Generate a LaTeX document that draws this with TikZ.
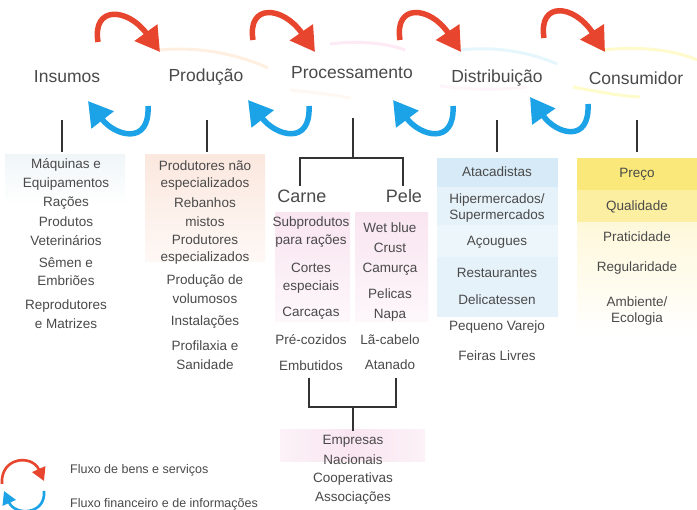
\documentclass[tikz,border=0pt]{standalone}
\usepackage{fontspec}
\setmainfont{Liberation Sans}
\usetikzlibrary{arrows.meta}
\definecolor{txt}{HTML}{4A4A4A}
\definecolor{rd}{HTML}{E8452E}
\definecolor{bl}{HTML}{1CA2E6}
\definecolor{ln}{HTML}{333333}
\definecolor{insbg}{HTML}{F0F6F8}
\definecolor{prodbg}{HTML}{FBE8DF}
\definecolor{procbg}{HTML}{F9E5F0}
\definecolor{distbg}{HTML}{E5F2FA}
\definecolor{distbgt}{HTML}{D6EAF7}
\definecolor{consa}{HTML}{FAE97A}
\definecolor{consb}{HTML}{FCEFA2}
\definecolor{consc}{HTML}{FEF8DA}
\begin{document}
\begin{tikzpicture}[x=1pt,y=-1pt,
  hdr/.style={font=\fontsize{17.5}{20}\selectfont, text=txt, inner sep=0pt},
  subhdr/.style={font=\fontsize{18}{20}\selectfont, text=txt, inner sep=0pt},
  item/.style={font=\fontsize{13.5}{15}\selectfont, text=txt, inner sep=0pt},
  legtext/.style={font=\fontsize{12.5}{15}\selectfont, text=txt, inner sep=0pt, anchor=west},
  conn/.style={draw=ln, line width=1.4pt},
  redarrow/.style={draw=rd, line width=5.5pt, -{Triangle[length=24pt,width=27pt]}},
  bluearrow/.style={draw=bl, line width=5.5pt, -{Triangle[length=24pt,width=27pt]}},
  legred/.style={draw=rd, line width=2.6pt, -{Triangle[length=13pt,width=14pt]}},
  legblue/.style={draw=bl, line width=2.6pt, -{Triangle[length=13pt,width=14pt]}},
  swoosh/.style={line width=3pt, opacity=0.2},
]
\useasboundingbox (0,0) rectangle (697,510);
\fill[white] (0,0) rectangle (697,510);

% background panels
\shade[top color=insbg, bottom color=white] (5,155) rectangle (125,205);
\shade[top color=prodbg, bottom color=prodbg!30] (145,155) rectangle (265,262);
\shade[top color=procbg, bottom color=procbg!30] (275,213) rectangle (350,322);
\shade[top color=procbg, bottom color=procbg!30] (355,213) rectangle (428,322);
\shade[left color=procbg!50, right color=procbg!50, middle color=procbg] (280,430) rectangle (425,462);
\fill[distbg] (437,158) rectangle (558,317);
\fill[distbgt] (437,158) rectangle (558,187);
\fill[distbg!70] (437,225) rectangle (558,257);
\shade[top color=consc, bottom color=white] (577,222) rectangle (697,335);
\fill[consa] (577,158) rectangle (697,190);
\fill[consb] (577,190) rectangle (697,222);

% faint swooshes
\draw[swoosh, draw=orange!60] (160,50) .. controls (200,46) and (240,55) .. (268,68);
\draw[swoosh, draw=magenta!40] (330,44) .. controls (360,40) and (390,44) .. (405,50);
\draw[swoosh, draw=cyan!50] (460,50) .. controls (495,46) and (530,52) .. (557,64);
\draw[swoosh, draw=yellow!90!orange] (603,50) .. controls (640,46) and (675,50) .. (697,60);
\draw[swoosh, draw=orange!40, opacity=0.12] (290,90) .. controls (310,92) and (330,94) .. (350,98);
\draw[swoosh, draw=magenta!30, opacity=0.12] (440,86) .. controls (470,90) and (500,90) .. (527,87);
\draw[swoosh, draw=yellow!80, opacity=0.25] (573,87) .. controls (600,92) and (620,96) .. (640,97);

% headers
\node[hdr] (ins)  at (67,77) {Insumos};
\node[hdr] (prod) at (206,77) {Produção};
\node[hdr] (proc) at (352,73) {Processamento};
\node[hdr] (dist) at (497,78) {Distribuição};
\node[hdr] (cons) at (636,78) {Consumidor};

% red arrows (goods and services)
\draw[redarrow] (98,42) .. controls (92,5) and (128,8) .. (160,52);
\draw[redarrow] (253,40) .. controls (247,3) and (283,6) .. (315,52);
\draw[redarrow] (400,40) .. controls (394,3) and (430,6) .. (461,52);
\draw[redarrow] (544,38) .. controls (538,1) and (574,4) .. (605,52);

% blue arrows (financial flow)
\draw[bluearrow] (148,106) .. controls (150,146) and (115,136) .. (88,101);
\draw[bluearrow] (309,106) .. controls (311,146) and (276,136) .. (248,100);
\draw[bluearrow] (453,106) .. controls (455,146) and (420,136) .. (393,100);
\draw[bluearrow] (588,104) .. controls (590,144) and (556,134) .. (530,97);

% connector coordinates
\coordinate (insA) at (62,120);   \coordinate (insB) at (62,152);
\coordinate (prodA) at (207,120); \coordinate (prodB) at (207,152);
\coordinate (procA) at (353,118); \coordinate (procM) at (353,158);
\coordinate (carneT) at (300,186); \coordinate (peleT) at (403,186);
\coordinate (distA) at (497,120); \coordinate (distB) at (497,152);
\coordinate (consA) at (637,120); \coordinate (consB) at (637,152);
\coordinate (carneB) at (309,378); \coordinate (peleB) at (396,378);
\coordinate (botM) at (353,407); \coordinate (empT) at (353,431);

\draw[conn] (insA) -- (insB);
\draw[conn] (prodA) -- (prodB);
\draw[conn] (distA) -- (distB);
\draw[conn] (consA) -- (consB);
\draw[conn] (procA) -- (procM);
\draw[conn] (carneT) |- (procM) -| (peleT);
\draw[conn] (carneB) |- (botM) -| (peleB);
\draw[conn] (botM) -- (empT);

% Insumos items
\foreach \t/\y [count=\i] in {Máquinas e/165, Equipamentos/184, Rações/203, Produtos/222, Veterinários/241, Sêmen e/263, Embriões/281, Reprodutores/306, e Matrizes/324}
  \node[item] (insI\i) at (66,\y) {\t};

% Produção items
\foreach \t/\y [count=\i] in {Produtores não/166, especializados/184, Rebanhos/203, mistos/222, Produtores/240, especializados/258, Produção de/281, volumosos/299, Instalações/322, Profilaxia e/346, Sanidade/365}
  \node[item] (prodI\i) at (205,\y) {\t};

% Processamento
\node[subhdr] (carne) at (302,196) {Carne};
\node[subhdr] (pele) at (404,196) {Pele};
\foreach \t/\y [count=\i] in {Subprodutos/223, para rações/241, Cortes/268, especiais/287, Carcaças/313, Pré-cozidos/340, Embutidos/366}
  \node[item] (carneI\i) at (311,\y) {\t};
\foreach \t/\y [count=\i] in {Wet blue/228, Crust/248, Camurça/269, Pelicas/294, Napa/315, Lã-cabelo/340, Atanado/365}
  \node[item] (peleI\i) at (390,\y) {\t};
\foreach \t/\y [count=\i] in {Empresas/441, Nacionais/460, Cooperativas/479, Associações/498}
  \node[item] (empI\i) at (353,\y) {\t};

% Distribuição items
\foreach \t/\y [count=\i] in {Atacadistas/172, {Hipermercados\slash}/200, Supermercados/216, Açougues/242, Restaurantes/273, Delicatessen/300, Pequeno Varejo/327, Feiras Livres/356}
  \node[item] (distI\i) at (497,\y) {\t};

% Consumidor items
\foreach \t/\y [count=\i] in {Preço/174, Qualidade/207, Praticidade/237, Regularidade/268, {Ambiente\slash}/302, Ecologia/319}
  \node[item] (consI\i) at (637,\y) {\t};

% legend
\draw[legred] (2,484) .. controls (0,457) and (32,454) .. (44,481);
\draw[legblue] (44,491) .. controls (46,515) and (15,516) .. (4,491);
\node[legtext] (leg1) at (70,470) {Fluxo de bens e serviços};
\node[legtext] (leg2) at (70,504) {Fluxo financeiro e de informações};
\end{tikzpicture}
\end{document}
